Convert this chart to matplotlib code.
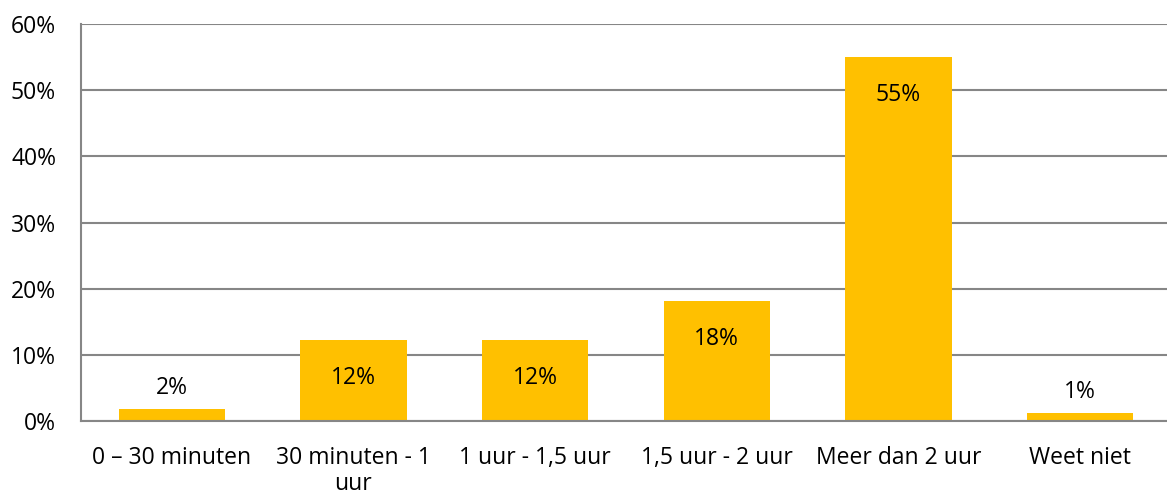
import matplotlib
matplotlib.use("Agg")
import matplotlib.pyplot as plt
from matplotlib.ticker import FuncFormatter

categories = ["0 – 30 minuten", "30 minuten - 1\nuur", "1 uur - 1,5 uur",
              "1,5 uur - 2 uur", "Meer dan 2 uur", "Weet niet"]
values = [1.8, 12.2, 12.3, 18.2, 55.0, 1.2]
labels = ["2%", "12%", "12%", "18%", "55%", "1%"]
yticks = [0, 10, 20, 30, 40, 50, 60]

plt.rcParams['font.family'] = ['Open Sans', 'DejaVu Sans']
fs = 16.5

fig = plt.figure(figsize=(11.67, 4.97), dpi=100)
ax = fig.add_axes([81/1167, 76/497, 1090/1167, 397/497])
x = list(range(len(categories)))
bars = ax.bar(x, values, width=0.584, color="#FFC000", zorder=3)
ax.set_xlim(-0.5, len(categories) - 0.5)
ax.set_ylim(0, 60)
ax.set_yticks(yticks)
ax.yaxis.set_major_formatter(FuncFormatter(lambda v, p: f"{int(v)}%"))
ax.set_xticks(x)
ax.set_xticklabels(categories, fontsize=fs, linespacing=1.1, va="top")
ax.tick_params(axis="y", length=0, pad=18, labelsize=fs)
ax.tick_params(axis="x", length=0, pad=18)
ax.grid(axis="y", color="#868686", linewidth=1.5, zorder=0)
for s in ["top", "right"]:
    ax.spines[s].set_visible(False)
ax.spines["left"].set_color("#868686")
ax.spines["left"].set_linewidth(1.5)
ax.spines["bottom"].set_color("#868686")
ax.spines["bottom"].set_linewidth(1.5)
ax.spines["bottom"].set_zorder(4)

for xi, v, lab in zip(x, values, labels):
    if v < 5:
        ax.annotate(lab, (xi, v), xytext=(0, 21), textcoords="offset pixels",
                    ha="center", va="center", fontsize=fs)
    else:
        ax.annotate(lab, (xi, v), xytext=(0, -38), textcoords="offset pixels",
                    ha="center", va="center", fontsize=fs)

fig.savefig("out.png", dpi=100)
